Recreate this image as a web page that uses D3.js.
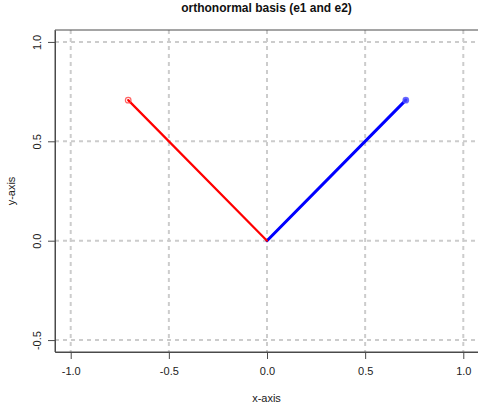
<!DOCTYPE html>
<html>
<head>
<meta charset="utf-8">
<script src="https://cdn.jsdelivr.net/npm/d3@7"></script>
<style>
  html, body { margin: 0; padding: 0; background: #ffffff; }
  svg { display: block; font-family: "Liberation Sans", Arial, Helvetica, sans-serif; }
</style>
</head>
<body>
<div id="chart"></div>
<script>
// Basis vectors drawn from the origin
const vectorNames = ["e1", "e2"];
const vectorX = [0.7071, -0.7071];
const vectorY = [0.7071, 0.7071];
const vectorColors = ["#0000ff", "#ff0000"];

// Axis limits and tick values
const xLimits = [-1, 1];
const yLimits = [-0.5, 1];
const xTicks = [-1.0, -0.5, 0.0, 0.5, 1.0];
const yTicks = [-0.5, 0.0, 0.5, 1.0];

const titleText = "orthonormal basis (e1 and e2)";
const xLabel = "x-axis";
const yLabel = "y-axis";

const width = 478, height = 410;
const plot = { left: 55, right: 479, top: 30, bottom: 352 };

// R-style 4% padding around the limits
const padX = (xLimits[1] - xLimits[0]) * 0.04;
const padY = (yLimits[1] - yLimits[0]) * 0.04;
const x = d3.scaleLinear().domain([xLimits[0] - padX, xLimits[1] + padX]).range([plot.left, plot.right]);
const y = d3.scaleLinear().domain([yLimits[0] - padY, yLimits[1] + padY]).range([plot.bottom, plot.top]);

const svg = d3.select("#chart").append("svg")
  .attr("width", width).attr("height", height);

// Plain hyphen for negative numbers
const locale = d3.formatLocale({ decimal: ".", thousands: ",", grouping: [3], currency: ["", ""], minus: "-" });
const fmt = locale.format(".1f");

// Dashed grid
const grid = svg.append("g").attr("stroke", "#cccccc").attr("stroke-width", 2)
  .attr("stroke-dasharray", "4,4").attr("fill", "none");
grid.selectAll("line.gx").data(xTicks).join("line")
  .attr("x1", d => x(d)).attr("x2", d => x(d))
  .attr("y1", plot.top).attr("y2", plot.bottom);
grid.selectAll("line.gy").data(yTicks).join("line")
  .attr("y1", d => y(d)).attr("y2", d => y(d))
  .attr("x1", plot.left).attr("x2", plot.right);

// Vectors
const vectors = vectorNames.map((n, i) => ({ name: n, x: vectorX[i], y: vectorY[i], color: vectorColors[i] }));
svg.append("g").selectAll("line").data(vectors).join("line")
  .attr("x1", x(0)).attr("y1", y(0))
  .attr("x2", d => x(d.x)).attr("y2", d => y(d.y))
  .attr("stroke", d => d.color)
  .attr("stroke-width", d => d.name === "e1" ? 3 : 2.2)
  .attr("stroke-linecap", "round");

// Tip markers
svg.append("g").selectAll("circle").data(vectors).join("circle")
  .attr("cx", d => x(d.x)).attr("cy", d => y(d.y))
  .attr("r", 2.8)
  .attr("fill", d => d.name === "e1" ? "rgba(70,70,255,0.8)" : "none")
  .attr("stroke", d => d.name === "e1" ? "rgba(90,90,255,0.8)" : "rgba(255,60,60,0.8)")
  .attr("stroke-width", 1.2);

// Plot frame
const frame = "#4a4a4a";
svg.append("path")
  .attr("d", `M${plot.right},${plot.top}H${plot.left}V${plot.bottom}H${plot.right}`)
  .attr("fill", "none").attr("stroke", frame).attr("stroke-width", 1);

// X axis
const xAxis = d3.axisBottom(x).tickValues(xTicks).tickFormat(fmt)
  .tickSizeInner(7).tickSizeOuter(0).tickPadding(8);
const gx = svg.append("g").attr("transform", `translate(0,${plot.bottom})`).call(xAxis);
gx.select(".domain").attr("stroke", frame);
gx.selectAll(".tick line").attr("stroke", frame);
gx.selectAll(".tick text").attr("font-size", 11).attr("fill", "#222")
  .attr("font-family", "Liberation Sans, Arial, sans-serif");

// Y axis with rotated tick labels
const yAxis = d3.axisLeft(y).tickValues(yTicks).tickFormat(fmt)
  .tickSizeInner(7).tickSizeOuter(0).tickPadding(6);
const gy = svg.append("g").attr("transform", `translate(${plot.left},0)`).call(yAxis);
gy.select(".domain").attr("stroke", frame);
gy.selectAll(".tick line").attr("stroke", frame);
gy.selectAll(".tick text")
  .attr("font-size", 11).attr("fill", "#222")
  .attr("font-family", "Liberation Sans, Arial, sans-serif")
  .attr("x", null).attr("dy", null)
  .attr("text-anchor", "middle")
  .attr("transform", "translate(-14,0) rotate(-90)")
  .attr("y", 0);

// Title and axis labels
svg.append("text").attr("x", (plot.left + plot.right) / 2 - 0.5).attr("y", 12)
  .attr("text-anchor", "middle").attr("font-size", 12).attr("font-weight", "bold")
  .attr("fill", "#111").text(titleText);
svg.append("text").attr("x", (plot.left + plot.right) / 2 - 0.5).attr("y", 402)
  .attr("text-anchor", "middle").attr("font-size", 11).attr("fill", "#222").text(xLabel);
svg.append("text").attr("transform", `translate(15,${(plot.top + plot.bottom) / 2}) rotate(-90)`)
  .attr("text-anchor", "middle").attr("font-size", 11).attr("fill", "#222").text(yLabel);
</script>
</body>
</html>
